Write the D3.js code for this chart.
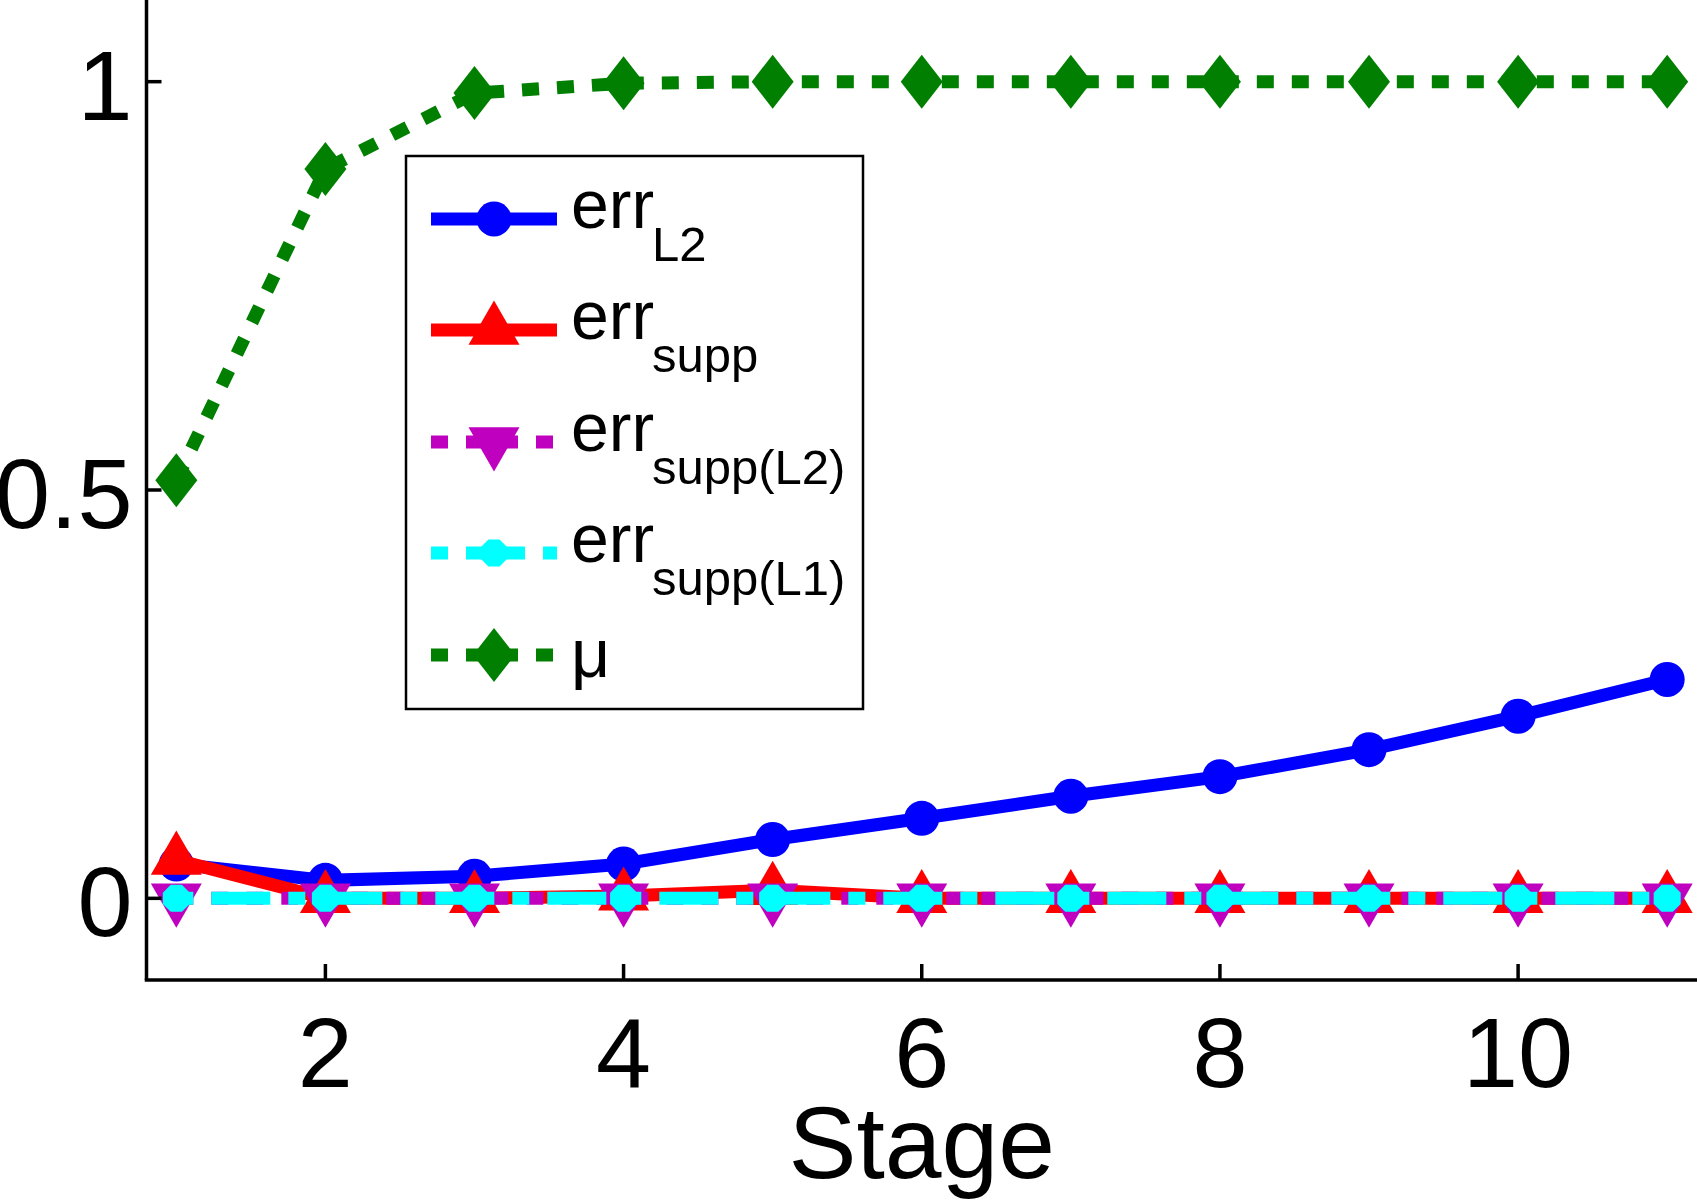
<!DOCTYPE html>
<meta charset="utf-8">
<style>

body {
  margin: 0;
  background: #fff;
}

text {
  font-family: "Liberation Sans", Arial, sans-serif;
  fill: #000;
}

.tick-label {
  font-size: 99px;
}

.axis-title {
  font-size: 102px;
  text-anchor: middle;
}

.leg-main {
  font-size: 68px;
}

.leg-sub {
  font-size: 49px;
}

</style>
<svg width="1697" height="1200"></svg>
<script src="https://d3js.org/d3.v7.min.js"></script>
<script>

// values
var stages = [1, 2, 3, 4, 5, 6, 7, 8, 9, 10, 11];

var errL2     = [0.042, 0.022, 0.027, 0.042, 0.072, 0.098, 0.125, 0.149, 0.182, 0.223, 0.268];
var errSupp   = [0.047, 0, 0, 0.003, 0.010, 0, 0, 0, 0, 0, 0];
var errSuppL2 = [0, 0, 0, 0, 0, 0, 0, 0, 0, 0, 0];
var errSuppL1 = [0, 0, 0, 0, 0, 0, 0, 0, 0, 0, 0];
var mu        = [0.512, 0.893, 0.986, 0.998, 1, 1, 1, 1, 1, 1, 1];

var xTicks = [2, 4, 6, 8, 10],
    yTicks = [0, 0.5, 1],
    yTickLabels = ["0", "0.5", "1"];

var svg = d3.select("svg");

var plotLeft = 146.5,
    plotRight = 1697,
    plotTop = 0,
    plotBottom = 980;

var x = d3.scaleLinear().domain([0.8, 11.2]).range([plotLeft, plotRight]),
    y = d3.scaleLinear().domain([-0.1, 1.1]).range([plotBottom, plotTop]);

// marker shapes (pixel sizes measured on the picture)
function triUp(s) {
  var h = s * Math.sqrt(3) / 2;
  return "M0," + (-2 * h / 3) + "L" + (s / 2) + "," + (h / 3) + "L" + (-s / 2) + "," + (h / 3) + "Z";
}
function triDown(s) {
  var h = s * Math.sqrt(3) / 2;
  return "M0," + (2 * h / 3) + "L" + (s / 2) + "," + (-h / 3) + "L" + (-s / 2) + "," + (-h / 3) + "Z";
}
function diamond(w, h) {
  return "M0," + (-h / 2) + "L" + (w / 2) + ",0L0," + (h / 2) + "L" + (-w / 2) + ",0Z";
}
function octagon(a) {
  var R = a / Math.cos(Math.PI / 8), p = [];
  for (var k = 0; k < 8; k++) {
    var t = Math.PI / 8 + k * Math.PI / 4;
    p.push([R * Math.cos(t), R * Math.sin(t)]);
  }
  return "M" + p.join("L") + "Z";
}
function circle(r) {
  return "M" + r + ",0A" + r + "," + r + " 0 1,1 " + (-r) + ",0A" + r + "," + r + " 0 1,1 " + r + ",0Z";
}

var series = [
  {values: errL2,     color: "#0000ff", dash: null,           shape: circle(17.5),     main: "err", sub: "L2"},
  {values: errSupp,   color: "#ff0000", dash: null,           shape: triUp(51),        main: "err", sub: "supp"},
  {values: errSuppL2, color: "#bf00bf", dash: "17 18",        shape: triDown(51),      main: "err", sub: "supp(L2)"},
  {values: errSuppL1, color: "#00ffff", dash: "17 18 59 18",  shape: octagon(13.5),    main: "err", sub: "supp(L1)"},
  {values: mu,        color: "#007f00", dash: "17 18",        shape: diamond(42, 54),  main: "\u03bc", sub: null}
];

var line = d3.line()
    .x(function(d, i) { return x(stages[i]); })
    .y(function(d) { return y(d); });

var plot = svg.append("g");

series.forEach(function(s) {
  var g = plot.append("g");
  g.append("path")
      .attr("d", line(s.values))
      .attr("fill", "none")
      .attr("stroke", s.color)
      .attr("stroke-width", 13)
      .attr("stroke-linejoin", "miter")
      .attr("stroke-dasharray", s.dash);
  g.selectAll(".m")
      .data(s.values)
    .enter().append("path")
      .attr("class", "m")
      .attr("transform", function(d, i) { return "translate(" + x(stages[i]) + "," + y(d) + ")"; })
      .attr("d", s.shape)
      .attr("fill", s.color);
});

// axes (MATLAB style: ticks pointing inward, no box)
var axes = svg.append("g");

axes.append("line")
    .attr("x1", plotLeft).attr("x2", plotLeft)
    .attr("y1", plotTop).attr("y2", plotBottom)
    .attr("stroke", "#000").attr("stroke-width", 3.5);

axes.append("line")
    .attr("x1", plotLeft - 1.75).attr("x2", plotRight)
    .attr("y1", plotBottom).attr("y2", plotBottom)
    .attr("stroke", "#000").attr("stroke-width", 3.5);

axes.selectAll(".xt")
    .data(xTicks)
  .enter().append("line")
    .attr("x1", function(d) { return x(d); })
    .attr("x2", function(d) { return x(d); })
    .attr("y1", plotBottom).attr("y2", plotBottom - 16)
    .attr("stroke", "#000").attr("stroke-width", 3.5);

axes.selectAll(".xl")
    .data(xTicks)
  .enter().append("text")
    .attr("class", "tick-label")
    .attr("x", function(d) { return x(d); })
    .attr("y", plotBottom + 107)
    .attr("text-anchor", "middle")
    .text(function(d) { return d; });

axes.selectAll(".yt")
    .data(yTicks)
  .enter().append("line")
    .attr("x1", plotLeft).attr("x2", plotLeft + 15)
    .attr("y1", function(d) { return y(d); })
    .attr("y2", function(d) { return y(d); })
    .attr("stroke", "#000").attr("stroke-width", 3.5);

axes.selectAll(".yl")
    .data(yTicks)
  .enter().append("text")
    .attr("class", "tick-label")
    .attr("x", plotLeft - 14)
    .attr("y", function(d) { return y(d) + 38; })
    .attr("text-anchor", "end")
    .text(function(d, i) { return yTickLabels[i]; });

axes.append("text")
    .attr("class", "axis-title")
    .attr("x", (plotLeft + plotRight) / 2)
    .attr("y", 1178)
    .text("Stage");

// legend
var legX = 406, legY = 156, legW = 457, legH = 553;
var rowY = [63, 174, 286, 397, 499];

var legend = svg.append("g").attr("transform", "translate(" + legX + "," + legY + ")");

legend.append("rect")
    .attr("width", legW).attr("height", legH)
    .attr("fill", "#fff")
    .attr("stroke", "#000").attr("stroke-width", 2.5);

series.forEach(function(s, i) {
  var row = legend.append("g").attr("transform", "translate(0," + rowY[i] + ")");
  row.append("line")
      .attr("x1", 25).attr("x2", 151)
      .attr("stroke", s.color)
      .attr("stroke-width", 13)
      .attr("stroke-dasharray", s.dash);
  row.append("path")
      .attr("transform", "translate(88,0)")
      .attr("d", s.shape)
      .attr("fill", s.color);
  row.append("text")
      .attr("class", "leg-main")
      .attr("x", 165)
      .attr("y", s.sub ? 9 : 22)
      .text(s.main);
  if (s.sub) {
    row.append("text")
        .attr("class", "leg-sub")
        .attr("x", 246)
        .attr("y", 42)
        .text(s.sub);
  }
});

</script>
